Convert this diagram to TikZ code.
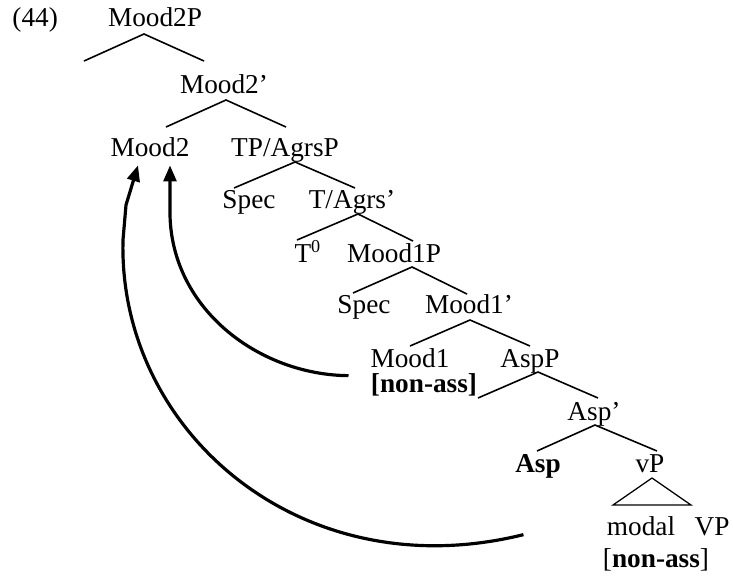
\documentclass[tikz,border=0pt]{standalone}
\usepackage{fontspec}
\setmainfont{Liberation Serif}
\usetikzlibrary{arrows.meta}

\begin{document}
\begin{tikzpicture}[
	x=0.44pt,
	y=-0.44pt,
	lab/.style={
		inner sep=0pt,
		anchor=base,
		text height=8.2pt,
		text depth=2.6pt,
		font=\fontsize{12}{14}\selectfont
	},
	branch/.style={line width=0.7pt},
	move/.style={
		line width=1.4pt,
		-{Triangle[length=7pt,width=5.6pt]}
	}]

   \useasboundingbox (0,0) rectangle (733,575);

   % labels of the tree
   \node[lab, anchor=base west] (ex) at (12,26) {(44)};
   \node[lab] (m2p) at (155,26) {Mood2P};
   \node[lab] (m2bar) at (224,93) {Mood2'};
   \node[lab] (m2) at (150,156) {Mood2};
   \node[lab] (tp) at (285,156) {TP/AgrsP};
   \node[lab] (spec1) at (249,208) {Spec};
   \node[lab] (tagr) at (352,208) {T/Agrs'};
   \node[lab] (t0) at (308,262) {T\textsuperscript{0}};
   \node[lab] (m1p) at (394,262) {Mood1P};
   \node[lab] (spec2) at (364,313) {Spec};
   \node[lab] (m1bar) at (469,313) {Mood1'};
   \node[lab] (m1) at (410,367) {Mood1};
   \node[lab] (aspp) at (530,367) {AspP};
   \node[lab] (na1) at (424,392) {\textbf{[non-ass]}};
   \node[lab] (aspbar) at (594,420) {Asp'};
   \node[lab] (asp) at (538,472) {\textbf{Asp}};
   \node[lab] (vp) at (650,472) {vP};
   \node[lab] (modal) at (641,535) {modal};
   \node[lab] (vpp) at (712,535) {VP};
   \node[lab] (na2) at (656,567) {[\textbf{non-ass}]};

   % empty specifiers
   \coordinate (spec0) at (84,61);
   \coordinate (spec3) at (478,398);

   % branches
   \draw[branch] (spec0) -- ([shift={(-11,8)}]m2p.base) -- ([shift={(-20,-32)}]m2bar.base);
   \draw[branch] ([shift={(16,-29)}]m2.base) -- ([shift={(2,7)}]m2bar.base) -- ([shift={(1,-29)}]tp.base);
   \draw[branch] ([shift={(-15,-20)}]spec1.base) -- ([shift={(10,6)}]tp.base) -- ([shift={(3,-20)}]tagr.base);
   \draw[branch] ([shift={(-11,-22)}]t0.base) -- ([shift={(6,6)}]tagr.base) -- ([shift={(19,-21)}]m1p.base);
   \draw[branch] ([shift={(-11,-20)}]spec2.base) -- ([shift={(18,5)}]m1p.base) -- ([shift={(-2,-19)}]m1bar.base);
   \draw[branch] ([shift={(0,-21)}]m1.base) -- ([shift={(1,7)}]m1bar.base) -- ([shift={(0,-21)}]aspp.base);
   \draw[branch] (spec3) -- ([shift={(8,5)}]aspp.base) -- ([shift={(4,-22)}]aspbar.base);
   \draw[branch] ([shift={(-1,-21)}]asp.base) -- ([shift={(1,5)}]aspbar.base) -- ([shift={(7,-21)}]vp.base);
   \draw[line width=0.55pt] ([shift={(2,6)}]vp.base) -- ([shift={(-28,-30)}]modal.base)
      -- ([shift={(-21,-30)}]vpp.base) -- cycle;

   % movement arrows
   \draw[move] ([shift={(-22,-10)}]na1.west) .. controls (260,375) and (172,310) .. (170,215)
      -- ([shift={(20,3)}]m2.south);
   \draw[move] ([shift={(-83,6)}]modal.west) .. controls (300,590) and (118,430) .. (123,240)
      -- (126,205) -- ([shift={(-12,3)}]m2.south);
\end{tikzpicture}
\end{document}
